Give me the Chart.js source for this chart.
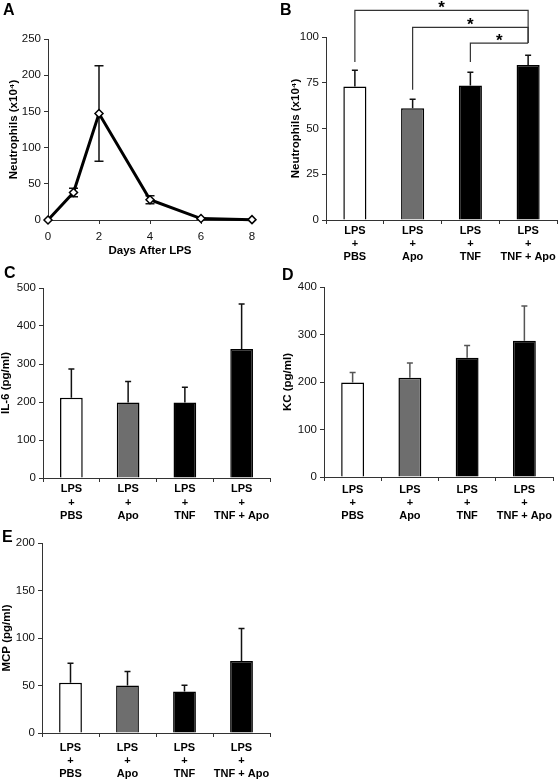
<!DOCTYPE html>
<html>
<head>
<meta charset="utf-8">
<script src="https://cdn.jsdelivr.net/npm/chart.js@4.4.1/dist/chart.umd.min.js"></script>
<style>
  body { margin: 0; background: #fff; font-family: 'Liberation Sans', Arial, sans-serif; }
  #page { position: relative; width: 560px; height: 779px; overflow: hidden; }
  .panel { position: absolute; }
  .letter { position: absolute; font-weight: bold; font-size: 16px; line-height: 1; color: #000; }
</style>
</head>
<body>
<div id="page">
  <div class="panel" style="left:0;top:0;width:270px;height:262px"><canvas id="chartA"></canvas></div>
  <div class="panel" style="left:270px;top:0;width:290px;height:262px"><canvas id="chartB"></canvas></div>
  <div class="panel" style="left:0;top:262px;width:280px;height:260px"><canvas id="chartC"></canvas></div>
  <div class="panel" style="left:270px;top:262px;width:290px;height:260px"><canvas id="chartD"></canvas></div>
  <div class="panel" style="left:0;top:522px;width:280px;height:257px"><canvas id="chartE"></canvas></div>
  <div class="letter" style="left:3px;top:2px">A</div>
  <div class="letter" style="left:280px;top:2px">B</div>
  <div class="letter" style="left:4px;top:265px">C</div>
  <div class="letter" style="left:282px;top:267px">D</div>
  <div class="letter" style="left:2px;top:529px">E</div>
</div>
<script>
// data
const groups = [['LPS', '+', 'PBS'], ['LPS', '+', 'Apo'], ['LPS', '+', 'TNF'], ['LPS', '+', 'TNF + Apo']];
const barColors = ['#ffffff', '#6e6e6e', '#000000', '#000000'];

const days = [0, 1, 2, 4, 6, 8];
const neutroTime = [0, 38, 147, 28, 2, 0.5];
const neutroTimeErr = [0, 6, 66, 5.5, 1, 0];

const neutroB = [73, 61, 73.5, 84.7];
const neutroBErr = [8.8, 5, 7.2, 5.3];

const il6 = [211, 199, 199, 339.5];
const il6Err = [76, 55, 40, 118.5];

const kc = [199, 209, 251, 287];
const kcErr = [21, 31, 26, 73];

const mcp = [52.8, 50, 43.7, 75.9];
const mcpErr = [20.6, 14.7, 6.6, 34.1];

// significance brackets of panel B (group index pairs)
const sigPairs = [[0, 3], [1, 3], [2, 3]];
const sigLabels = ['*', '*', '*'];

Chart.defaults.font.family = '"Liberation Sans", Arial, sans-serif';
Chart.defaults.font.size = 11.5;
Chart.defaults.color = '#111';
Chart.defaults.animation = false;

const axisColor = '#333';
const titleFont = { size: 11.5, weight: 'bold' };

// upper (or both-sided) error bars with caps
const errorBars = {
  id: 'errorBars',
  beforeDatasetsDraw(chart, args, opts) {
    const ds = chart.data.datasets[0];
    if (!ds.errors) return;
    const meta = chart.getDatasetMeta(0);
    const y = chart.scales.y;
    const ctx = chart.ctx;
    const cap = opts.cap || 3;
    ctx.save();
    ctx.strokeStyle = opts.color || '#000';
    ctx.lineWidth = opts.width || 1.5;
    meta.data.forEach((el, i) => {
      const err = ds.errors[i];
      if (!err) return;
      const v = opts.values[i];
      const top = y.getPixelForValue(v + err);
      const bottom = opts.both ? y.getPixelForValue(v - err) : el.y;
      ctx.beginPath();
      ctx.moveTo(el.x, bottom);
      ctx.lineTo(el.x, top);
      ctx.moveTo(el.x - cap, top);
      ctx.lineTo(el.x + cap, top);
      if (opts.both) {
        ctx.moveTo(el.x - cap, bottom);
        ctx.lineTo(el.x + cap, bottom);
      }
      ctx.stroke();
    });
    ctx.restore();
  }
};

const sigBrackets = {
  id: 'sigBrackets',
  afterDraw(chart, args, opts) {
    if (!opts.pairs) return;
    const { ctx, scales: { x, y } } = chart;
    ctx.save();
    ctx.strokeStyle = '#333';
    ctx.lineWidth = 1.2;
    ctx.fillStyle = '#000';
    ctx.font = 'bold 17px "Liberation Sans", Arial';
    ctx.textAlign = 'center';
    ctx.textBaseline = 'alphabetic';
    opts.pairs.forEach((p, k) => {
      const x1 = x.getPixelForValue(p[0]);
      const x2 = x.getPixelForValue(p[1]);
      const yl = y.getPixelForValue(opts.levels[k]);
      ctx.beginPath();
      ctx.moveTo(x1, y.getPixelForValue(opts.legFrom[k]));
      ctx.lineTo(x1, yl);
      ctx.lineTo(x2, yl);
      ctx.lineTo(x2, y.getPixelForValue(opts.legTo));
      ctx.stroke();
      ctx.fillText(opts.labels[k], (x1 + x2) / 2, yl + 3);
    });
    ctx.restore();
  }
};

function yAxis(max, step, title, width, titlePad) {
  return {
    min: 0,
    max: max,
    ticks: { stepSize: step, padding: 3, color: '#111' },
    grid: { drawOnChartArea: false, tickLength: 4, color: axisColor },
    border: { color: axisColor, width: 1 },
    title: { display: true, text: title, font: titleFont, color: '#000', padding: { top: titlePad, bottom: 0 } },
    afterFit: (s) => { s.width = width; }
  };
}

function barChart(id, values, errors, yMax, yStep, yTitle, box) {
  new Chart(document.getElementById(id), {
    type: 'bar',
    data: {
      labels: groups,
      datasets: [{
        data: values,
        errors: errors,
        backgroundColor: barColors,
        borderColor: '#000',
        borderWidth: 1.5,
        categoryPercentage: 1,
        barPercentage: 0.4
      }]
    },
    options: {
      responsive: true,
      maintainAspectRatio: false,
      layout: { padding: box.pad },
      plugins: {
        legend: { display: false },
        tooltip: { enabled: false },
        errorBars: { values: values, cap: 3, width: 1.5, color: box.errColor || '#111' },
        sigBrackets: box.brackets || {}
      },
      scales: {
        x: {
          ticks: { font: { weight: 'bold', size: 11 }, color: '#000', padding: box.tickPad, maxRotation: 0, autoSkip: false },
          grid: { drawOnChartArea: false, tickLength: 4, color: axisColor, offset: true },
          border: { color: axisColor, width: 1 },
          afterFit: (s) => { s.height = box.xHeight; }
        },
        y: yAxis(yMax, yStep, yTitle, box.yWidth, box.titlePad)
      }
    },
    plugins: [errorBars, sigBrackets]
  });
}

// panel A: time course
new Chart(document.getElementById('chartA'), {
  type: 'line',
  data: {
    datasets: [{
      data: days.map((d, i) => ({ x: d, y: neutroTime[i] })),
      errors: neutroTimeErr,
      borderColor: '#000',
      borderWidth: 3,
      tension: 0,
      clip: false,
      pointStyle: 'rectRot',
      pointRadius: 4,
      pointBackgroundColor: '#fff',
      pointBorderColor: '#000',
      pointBorderWidth: 1.5
    }]
  },
  options: {
    responsive: true,
    maintainAspectRatio: false,
    layout: { padding: { left: 2.5, top: 39, right: 18, bottom: 0 } },
    plugins: {
      legend: { display: false },
      tooltip: { enabled: false },
      errorBars: { values: neutroTime, both: true, cap: 4.5, width: 1.5, color: '#111' }
    },
    scales: {
      x: {
        type: 'linear',
        min: 0,
        max: 8,
        ticks: { stepSize: 2, padding: 6, color: '#111' },
        grid: { drawOnChartArea: false, tickLength: 4, color: axisColor },
        border: { color: axisColor, width: 1 },
        title: { display: true, text: 'Days After LPS', font: titleFont, color: '#000', padding: { top: 0, bottom: 4 } },
        afterFit: (s) => { s.height = 42; }
      },
      y: yAxis(250, 50, 'Neutrophils (x10⁴)', 45.5, 4)
    }
  },
  plugins: [errorBars]
});

barChart('chartB', neutroB, neutroBErr, 100, 25, 'Neutrophils (x10⁴)', {
  pad: { left: 14.5, top: 37, right: 3, bottom: 0 },
  yWidth: 41.5, titlePad: 4, xHeight: 42, tickPad: 0,
  brackets: {
    pairs: sigPairs,
    labels: sigLabels,
    levels: [114.6, 105.3, 96.7],
    legFrom: [86.3, 71.2, 86.3],
    legTo: 96.7
  }
});

barChart('chartC', il6, il6Err, 500, 100, 'IL-6 (pg/ml)', {
  pad: { left: 0, top: 26, right: 10, bottom: 0 },
  yWidth: 43, titlePad: -1.5, xHeight: 44, tickPad: 0.7
});

barChart('chartD', kc, kcErr, 400, 100, 'KC (pg/ml)', {
  pad: { left: 7, top: 25, right: 7, bottom: 0 },
  yWidth: 47, titlePad: 4, xHeight: 45, tickPad: 2, errColor: '#555'
});

barChart('chartE', mcp, mcpErr, 200, 50, 'MCP (pg/ml)', {
  pad: { left: 0, top: 21, right: 10, bottom: 0 },
  yWidth: 42, titlePad: -0.5, xHeight: 46, tickPad: 4.4
});
</script>
</body>
</html>
